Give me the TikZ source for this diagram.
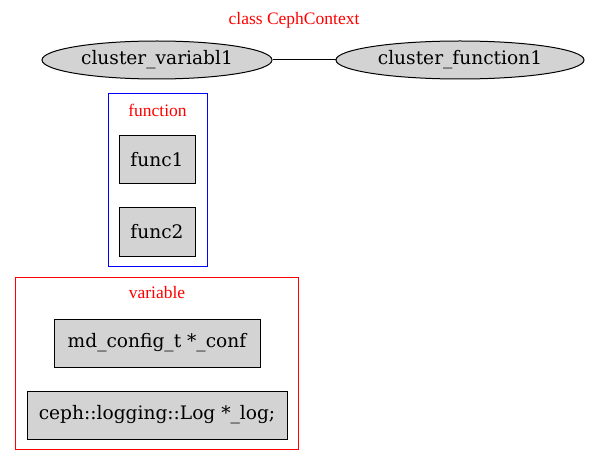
\documentclass[tikz,border=0pt]{standalone}
\usepackage{fontspec}
\newfontfamily\labelfont{Liberation Serif}
\newfontfamily\nodefont{DejaVu Serif}
\usetikzlibrary{shapes.geometric}
\definecolor{nodegray}{HTML}{D3D3D3}
\tikzset{
  nodetext/.style={font=\nodefont\fontsize{18.6}{21}\selectfont, text=black},
  ellnode/.style={ellipse, draw=black, fill=nodegray, line width=1pt, inner sep=0pt, minimum height=38pt, nodetext},
  boxnode/.style={rectangle, draw=black, fill=nodegray, line width=1pt, inner sep=0pt, minimum height=48pt, nodetext},
  clusterlabel/.style={font=\labelfont\fontsize{17.5}{20}\selectfont, text=red, inner sep=0pt},
  clusterbox/.style={line width=1pt},
}
\begin{document}
\begin{tikzpicture}[x=1pt,y=-1pt]
\useasboundingbox (0,0) rectangle (589,465);
\node[clusterlabel] (title) at (294,20) {class CephContext};
\node[ellnode, minimum width=230pt] (var1) at (157,60) {cluster\_variabl1};
\node[ellnode, minimum width=248pt] (fun1) at (460,60) {cluster\_function1};
\draw[line width=1pt] (var1) -- (fun1);
% function cluster
\draw[clusterbox, draw=blue] (108,94) rectangle (207,266);
\node[clusterlabel] (flabel) at (157.5,110) {function};
\node[boxnode, minimum width=76pt] (func1) at (157,160) {func1};
\node[boxnode, minimum width=76pt] (func2) at (157,232) {func2};
% variable cluster
\draw[clusterbox, draw=red] (15.5,277.5) rectangle (298.5,449);
\node[clusterlabel] (vlabel) at (157,293) {variable};
\node[boxnode, minimum width=206pt] (conf) at (157,343) {md\_config\_t *\_conf};
\node[boxnode, minimum width=260pt] (log) at (157,415) {ceph::logging::Log *\_log;};
\end{tikzpicture}
\end{document}
